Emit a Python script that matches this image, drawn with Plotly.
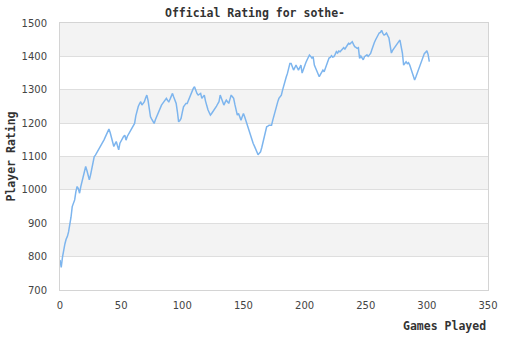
import plotly.graph_objects as go

# Rating after each game played (game 0 = starting rating)
ratings = [
    790, 768, 798, 822, 838, 852, 860, 874, 892, 918,
    950, 958, 970, 995, 1010, 1004, 990, 1010, 1024, 1040,
    1055, 1070, 1058, 1045, 1030, 1045, 1062, 1080, 1100, 1104,
    1110, 1120, 1126, 1131, 1135, 1142, 1150, 1158, 1166, 1175,
    1182, 1172, 1160, 1145, 1130, 1138, 1145, 1132, 1120, 1140,
    1148, 1155, 1160, 1164, 1149, 1160, 1166, 1172, 1179, 1186,
    1192, 1199, 1222, 1240, 1250, 1258, 1264, 1254, 1258, 1264,
    1275, 1284, 1268, 1249, 1219, 1212, 1205, 1199, 1210, 1220,
    1229, 1240, 1249, 1254, 1259, 1264, 1270, 1274, 1268, 1264,
    1272, 1280, 1289, 1278, 1268, 1259, 1234, 1204, 1208, 1214,
    1232, 1249, 1254, 1259, 1259, 1268, 1279, 1288, 1299, 1304,
    1309, 1298, 1289, 1284, 1287, 1289, 1274, 1279, 1284, 1266,
    1249, 1240, 1232, 1224, 1229, 1234, 1239, 1244, 1251, 1258,
    1264, 1284, 1274, 1263, 1254, 1262, 1269, 1264, 1259, 1272,
    1284, 1279, 1274, 1256, 1240, 1224, 1229, 1219, 1209, 1219,
    1229, 1219, 1207, 1195, 1185, 1175, 1164, 1152, 1139, 1131,
    1122, 1114, 1105, 1110, 1114, 1127, 1141, 1154, 1172, 1189,
    1191, 1194, 1194, 1194, 1209, 1224, 1239, 1251, 1263, 1274,
    1279, 1284, 1299, 1314, 1326, 1338, 1349, 1364, 1379, 1379,
    1369, 1359, 1366, 1374, 1366, 1359, 1366, 1374, 1350, 1362,
    1374, 1381, 1389, 1397, 1404, 1400, 1395, 1399, 1374, 1365,
    1356, 1347, 1339, 1346, 1352, 1359, 1354, 1364, 1375, 1385,
    1395, 1397, 1402, 1398, 1399, 1406, 1414, 1410, 1416, 1414,
    1419, 1424, 1426, 1422, 1429, 1434, 1439, 1437, 1441, 1444,
    1436, 1429, 1427, 1424, 1426, 1394, 1401, 1397, 1390, 1399,
    1402, 1405, 1400, 1406, 1409, 1420, 1434, 1441, 1449, 1456,
    1464, 1470, 1472, 1478, 1469, 1464, 1466, 1470, 1462, 1455,
    1432, 1410, 1418, 1424, 1429, 1434, 1440, 1444, 1449, 1430,
    1410, 1374, 1380, 1384, 1378, 1381, 1374, 1362, 1350, 1340,
    1329, 1338, 1348, 1359, 1366, 1374, 1384, 1396, 1409, 1412,
    1417, 1406, 1384,
]
games = list(range(len(ratings)))

y_ticks = [700, 800, 900, 1000, 1100, 1200, 1300, 1400, 1500]
x_ticks = [0, 50, 100, 150, 200, 250, 300, 350]

title_text = "Official Rating for sothe-"
x_title = "Games Played"
y_title = "Player Rating"

mono = "DejaVu Sans Mono"
sans = "DejaVu Sans"
label_font = dict(family=mono, size=11.5, color="#333")

fig = go.Figure()
fig.add_trace(go.Scatter(
    x=games, y=ratings, mode="lines",
    line=dict(color="#7db5ee", width=1.5),
    hoverinfo="x+y", showlegend=False,
))

# alternating shaded bands between gridlines
shapes = []
for i in range(len(y_ticks) - 1):
    if i % 2 == 1:
        shapes.append(dict(
            type="rect", xref="paper", yref="y", layer="below",
            x0=0, x1=1, y0=y_ticks[i], y1=y_ticks[i + 1],
            fillcolor="#f3f3f3", line=dict(width=0),
        ))

fig.update_layout(
    width=510, height=340,
    margin=dict(l=60, r=20, t=23, b=50),
    paper_bgcolor="white", plot_bgcolor="white",
    shapes=shapes,
    showlegend=False,
    title=dict(text=f"<b>{title_text}</b>", x=0.5, xref="container",
               xanchor="center", y=0.962, yref="container", yanchor="middle",
               font=label_font),
    annotations=[
        dict(text=f"<b>{x_title}</b>", xref="paper", yref="paper",
             x=1, y=0, yshift=-36, xanchor="right", yanchor="middle",
             showarrow=False, font=label_font),
        dict(text=f"<b>{y_title}</b>", xref="paper", yref="paper",
             x=0, xshift=-50, y=0.5, textangle=-90,
             xanchor="center", yanchor="middle",
             showarrow=False, font=label_font),
    ],
)

fig.update_xaxes(
    range=[0, 350], tickvals=x_ticks, ticktext=[str(v) for v in x_ticks],
    showgrid=False, zeroline=False,
    showline=True, linecolor="#d4d4d4", linewidth=1, mirror=True,
    ticks="", ticklabelstandoff=6,
    tickfont=dict(family=sans, size=10, color="#444"),
)
fig.update_yaxes(
    range=[700, 1500], tickvals=y_ticks, ticktext=[str(v) for v in y_ticks],
    showgrid=True, gridcolor="#dedede", gridwidth=1, zeroline=False,
    showline=True, linecolor="#d4d4d4", linewidth=1, mirror=True,
    ticks="", ticklabelstandoff=10,
    tickfont=dict(family=sans, size=10, color="#444"),
)

fig.write_html("out.html")
